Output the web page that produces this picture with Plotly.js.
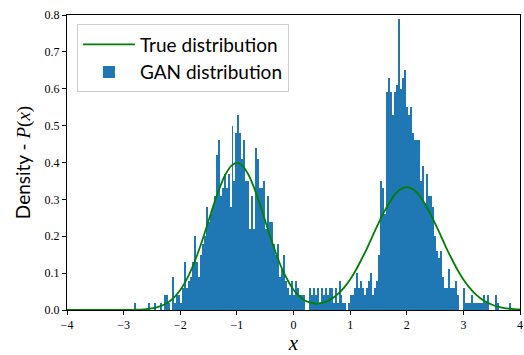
<!DOCTYPE html>
<html>
<head>
<meta charset="utf-8">
<script src="https://cdn.plot.ly/plotly-3.0.1.min.js"></script>
<style>
html,body{margin:0;padding:0;background:#fff;}
#chart{width:524px;height:355px;}
</style>
</head>
<body>
<div id="chart"></div>
<script>
// GAN histogram: density per bin (bins start at binStart, width binWidth)
const binStart = -2.81;
const binWidth = 0.035;
const ganDensity = [
0.02,0,0,0,0,0,0,0.02,0,0,
0.02,0,0,0.02,0,0.04,0.04,0.02,0,0.09,
0.02,0.04,0.04,0.02,0.06,0.13,0.06,0.08,0.09,0.13,
0.2,0.13,0.09,0.15,0.18,0.2,0.28,0.24,0.26,0.28,
0.31,0.42,0.46,0.31,0.33,0.37,0.33,0.37,0.28,0.5,
0.35,0.48,0.53,0.48,0.41,0.46,0.35,0.35,0.22,0.31,
0.22,0.44,0.41,0.33,0.33,0.35,0.22,0.31,0.24,0.24,
0.18,0.15,0.18,0.09,0.11,0.15,0.08,0.06,0.04,0.08,
0.04,0.08,0.06,0.04,0.04,0.04,0,0,0.06,0.04,
0.06,0.04,0.06,0.02,0.06,0.04,0.06,0.04,0.06,0.06,
0.02,0.06,0.02,0.08,0.04,0.02,0.02,0,0.02,0.04,
0.04,0.06,0.1,0.06,0.08,0.06,0.04,0.06,0.08,0.1,
0.04,0.06,0.08,0.15,0.35,0.33,0.26,0.59,0.63,0.59,
0.53,0.59,0.61,0.79,0.6,0.63,0.65,0.55,0.53,0.55,
0.48,0.46,0.46,0.46,0.35,0.39,0.29,0.37,0.31,0.31,
0.28,0.2,0.16,0.14,0.16,0.09,0.06,0.06,0.11,0.06,
0.06,0.06,0.08,0.04,0,0,0.06,0.02,0.02,0.02,
0.04,0.02,0.02,0.02,0.02,0.02,0.04,0.02,0.04,0,
0,0,0.04,0.02,0,0,0,0,0,0.02
];
const binCenters = ganDensity.map((_, i) => binStart + (i + 0.5) * binWidth);

// True distribution curve, sampled every 0.1 from -4 to 4
const trueX = [
-4.0,-3.9,-3.8,-3.7,-3.6,-3.5,-3.4,-3.3,-3.2,-3.1,
-3.0,-2.9,-2.8,-2.7,-2.6,-2.5,-2.4,-2.3,-2.2,-2.1,
-2.0,-1.9,-1.8,-1.7,-1.6,-1.5,-1.4,-1.3,-1.2,-1.1,
-1.0,-0.9,-0.8,-0.7,-0.6,-0.5,-0.4,-0.3,-0.2,-0.1,
0.0,0.1,0.2,0.3,0.4,0.5,0.6,0.7,0.8,0.9,
1.0,1.1,1.2,1.3,1.4,1.5,1.6,1.7,1.8,1.9,
2.0,2.1,2.2,2.3,2.4,2.5,2.6,2.7,2.8,2.9,
3.0,3.1,3.2,3.3,3.4,3.5,3.6,3.7,3.8,3.9,4.0
];
const trueY = [
0,0,0,0,0,0,0,0,0,0,
0.0001,0.0003,0.0006,0.0012,0.0024,0.0044,0.0079,0.0136,0.0224,0.0355,
0.054,0.079,0.111,0.150,0.194,0.242,0.290,0.333,0.368,0.391,
0.399,0.391,0.368,0.333,0.290,0.242,0.194,0.150,0.111,0.080,
0.055,0.038,0.026,0.020,0.017,0.019,0.024,0.033,0.046,0.062,
0.083,0.108,0.137,0.168,0.202,0.235,0.266,0.293,0.315,0.328,
0.333,0.328,0.315,0.293,0.266,0.235,0.202,0.168,0.137,0.108,
0.083,0.062,0.045,0.032,0.022,0.015,0.0095,0.006,0.0037,0.0022,0.0013
];

const xTicks = [-4,-3,-2,-1,0,1,2,3,4];
const yTicks = [0.0,0.1,0.2,0.3,0.4,0.5,0.6,0.7,0.8];

const serif = "'Liberation Serif', 'DejaVu Serif', serif";
const sans = "Lato, 'DejaVu Sans', sans-serif";

const traces = [
  {
    type: 'scatter', mode: 'lines', x: trueX, y: trueY,
    name: 'True distribution',
    line: {color: '#008000', width: 1.8, shape: 'spline'},
    hoverinfo: 'skip'
  },
  {
    type: 'bar', x: binCenters, y: ganDensity, width: binWidth,
    name: 'GAN distribution',
    marker: {color: '#1f77b4', line: {width: 0}},
    hoverinfo: 'skip'
  }
];

const layout = {
  width: 524, height: 355,
  margin: {l: 67, r: 4, t: 15, b: 45},
  paper_bgcolor: '#fff', plot_bgcolor: '#fff',
  showlegend: true,
  bargap: 0,
  legend: {
    x: 0.022, y: 0.968, xanchor: 'left', yanchor: 'top',
    bgcolor: 'rgba(255,255,255,0.8)', bordercolor: '#cccccc', borderwidth: 1,
    font: {family: sans, size: 19, color: '#000'},
    traceorder: 'normal', itemwidth: 52
  },
  xaxis: {
    range: [-4, 4], tickvals: xTicks, ticktext: xTicks.map(v => v < 0 ? '\u2212' + Math.abs(v) : String(v)),
    ticks: 'outside', ticklen: 4, tickwidth: 1, tickcolor: '#000',
    showline: true, linecolor: '#000', linewidth: 1, mirror: true,
    showgrid: false, zeroline: false,
    tickfont: {family: serif, size: 12, color: '#000'},
    title: {text: '<i>x</i>', font: {family: serif, size: 21, color: '#000'}, standoff: 6}
  },
  yaxis: {
    range: [0, 0.8], tickvals: yTicks, ticktext: yTicks.map(v => v.toFixed(1)),
    ticks: 'outside', ticklen: 4, tickwidth: 1, tickcolor: '#000',
    showline: true, linecolor: '#000', linewidth: 1, mirror: true,
    showgrid: false, zeroline: false,
    tickfont: {family: serif, size: 12, color: '#000'},
    title: {text: 'Density - <span style="font-family:\'Liberation Serif\',serif"><i>P</i>(<i>x</i>)</span>', font: {family: sans, size: 19, color: '#000'}, standoff: 8}
  }
};

Plotly.newPlot('chart', traces, layout, {staticPlot: true, displayModeBar: false});
</script>
</body>
</html>
